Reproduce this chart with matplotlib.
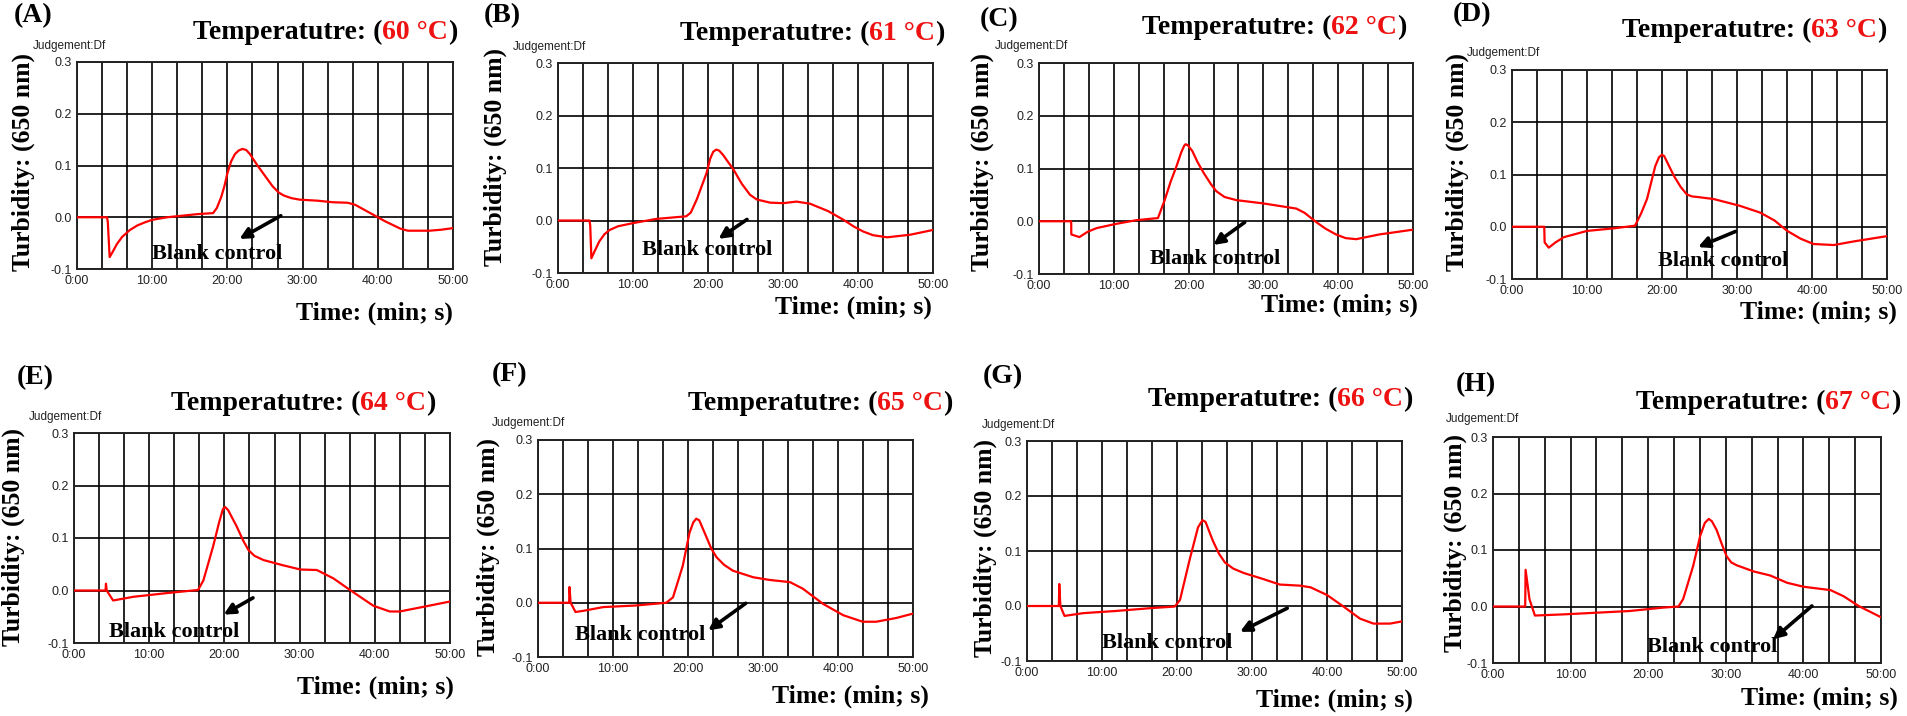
import numpy as np
import matplotlib
matplotlib.use("Agg")
import matplotlib.pyplot as plt

# turbidity curves (time in min, turbidity at 650 nm)
t_a = [0, 4.0, 4.1, 4.34, 4.7, 5.3, 6.0, 7.0, 8.0, 9.0, 10.0, 12.0, 14.0, 16.0, 18.1, 18.6, 19.2, 19.6, 20.0, 20.5, 21.0, 21.5, 22.0, 22.5, 23.0, 24.0, 25.0, 26.0, 26.8, 27.5, 28.5, 29.6, 32.0, 34.0, 36.0, 37.0, 38.0, 39.0, 40.0, 41.0, 42.0, 43.0, 44.0, 46.9, 48.5, 50.0]
y_a = [0, 0, -0.01, -0.077, -0.068, -0.052, -0.038, -0.025, -0.016, -0.01, -0.005, 0.0, 0.003, 0.006, 0.008, 0.018, 0.04, 0.06, 0.085, 0.108, 0.122, 0.129, 0.132, 0.13, 0.122, 0.1, 0.08, 0.06, 0.048, 0.042, 0.037, 0.034, 0.032, 0.029, 0.028, 0.024, 0.016, 0.008, 0.0, -0.008, -0.015, -0.022, -0.026, -0.026, -0.024, -0.021]

t_b = [0, 4.2, 4.3, 4.45, 4.9, 5.5, 6.2, 6.9, 8.0, 10.0, 13.1, 17.1, 17.7, 18.5, 19.8, 20.3, 20.7, 21.1, 21.5, 22.0, 23.4, 24.5, 25.6, 26.5, 28.3, 30.0, 31.8, 33.6, 36.0, 38.1, 39.5, 40.7, 42.0, 43.9, 47.0, 50.0]
y_b = [0, 0, -0.01, -0.072, -0.058, -0.04, -0.026, -0.018, -0.011, -0.005, 0.003, 0.008, 0.015, 0.04, 0.09, 0.118, 0.131, 0.135, 0.133, 0.125, 0.097, 0.07, 0.049, 0.04, 0.034, 0.033, 0.036, 0.032, 0.018, 0.001, -0.012, -0.021, -0.028, -0.032, -0.027, -0.018]

t_c = [0, 4.3, 4.32, 5.4, 6.5, 7.7, 10.3, 13.0, 15.9, 16.8, 17.6, 18.4, 19.0, 19.4, 19.6, 19.9, 20.5, 21.2, 22.0, 23.0, 23.7, 24.8, 26.4, 29.9, 34.4, 35.5, 37.1, 38.3, 39.7, 41.0, 42.4, 45.5, 50.0]
y_c = [0, 0, -0.025, -0.03, -0.02, -0.013, -0.005, 0.002, 0.006, 0.04, 0.075, 0.105, 0.13, 0.143, 0.146, 0.144, 0.133, 0.112, 0.092, 0.07, 0.057, 0.046, 0.04, 0.034, 0.024, 0.016, -0.002, -0.014, -0.025, -0.032, -0.034, -0.025, -0.016]

t_d = [0, 4.3, 4.35, 4.9, 5.8, 6.9, 10.0, 13.6, 16.4, 17.2, 18.0, 19.1, 19.6, 20.0, 20.3, 21.6, 22.5, 23.3, 24.0, 24.7, 26.9, 30.4, 33.1, 35.0, 36.7, 38.5, 40.2, 42.9, 45.6, 50.0]
y_d = [0, 0, -0.03, -0.04, -0.03, -0.02, -0.008, -0.003, 0.002, 0.025, 0.053, 0.116, 0.133, 0.138, 0.135, 0.097, 0.076, 0.062, 0.058, 0.057, 0.053, 0.04, 0.027, 0.012, -0.008, -0.023, -0.033, -0.035, -0.028, -0.018]

t_e = [0, 4.2, 4.25, 4.35, 5.2, 7.9, 12.3, 16.5, 17.2, 18.5, 19.3, 19.8, 20.1, 20.5, 21.6, 22.5, 23.2, 24.0, 25.2, 27.8, 30.1, 32.3, 34.5, 36.7, 39.8, 42.0, 43.3, 46.5, 50.0]
y_e = [0, 0, 0.013, 0.0, -0.019, -0.012, -0.005, 0.001, 0.019, 0.084, 0.13, 0.155, 0.159, 0.153, 0.123, 0.095, 0.077, 0.066, 0.058, 0.048, 0.04, 0.039, 0.023, 0.001, -0.029, -0.04, -0.04, -0.031, -0.021]

t_f = [0, 4.15, 4.2, 4.35, 5.0, 6.0, 8.7, 13.1, 17.1, 18.0, 19.3, 20.2, 20.7, 21.1, 21.5, 22.4, 23.1, 23.8, 24.8, 26.0, 28.7, 30.9, 33.6, 35.3, 38.0, 40.7, 43.3, 45.1, 47.8, 50.0]
y_f = [0, 0, 0.029, 0.0, -0.017, -0.015, -0.008, -0.005, 0.0, 0.01, 0.068, 0.129, 0.148, 0.155, 0.152, 0.123, 0.1, 0.084, 0.07, 0.059, 0.047, 0.042, 0.038, 0.026, -0.002, -0.023, -0.035, -0.035, -0.028, -0.02]

t_g = [0, 4.25, 4.3, 4.45, 5.0, 7.5, 11.9, 16.4, 19.7, 20.4, 21.7, 22.8, 23.4, 23.8, 24.8, 25.6, 26.4, 27.5, 28.9, 31.5, 33.7, 36.4, 37.8, 40.0, 42.2, 44.4, 46.2, 48.4, 50.0]
y_g = [0, 0, 0.04, 0.0, -0.018, -0.013, -0.009, -0.004, -0.001, 0.011, 0.085, 0.143, 0.156, 0.153, 0.118, 0.095, 0.079, 0.068, 0.06, 0.049, 0.039, 0.037, 0.034, 0.02, -0.001, -0.023, -0.032, -0.032, -0.028]

t_h = [0, 4.15, 4.2, 4.7, 5.4, 9.0, 13.3, 17.6, 21.9, 23.9, 24.5, 25.8, 26.7, 27.3, 27.8, 28.2, 28.8, 29.5, 30.1, 30.7, 31.4, 33.6, 35.7, 37.9, 40.0, 43.5, 45.2, 47.1, 50.0]
y_h = [0, 0, 0.065, 0.013, -0.016, -0.014, -0.011, -0.008, -0.002, 0.0, 0.013, 0.072, 0.125, 0.148, 0.155, 0.151, 0.136, 0.11, 0.089, 0.078, 0.073, 0.062, 0.055, 0.042, 0.035, 0.029, 0.018, 0.001, -0.019]

panel_labels = ["(A)", "(B)", "(C)", "(D)", "(E)", "(F)", "(G)", "(H)"]
temperatures = [60, 61, 62, 63, 64, 65, 66, 67]
times = [t_a, t_b, t_c, t_d, t_e, t_f, t_g, t_h]
turbs = [y_a, y_b, y_c, y_d, y_e, y_f, y_g, y_h]

x_ticks = [0, 10, 20, 30, 40, 50]
x_ticklabels = ["0:00", "10:00", "20:00", "30:00", "40:00", "50:00"]
y_ticks = [-0.1, 0.0, 0.1, 0.2, 0.3]
y_ticklabels = ["-0.1", "0.0", "0.1", "0.2", "0.3"]

# layout, in pixels of the 1907x716 picture
W, H = 1907, 716
axes_px = [(77, 453, 62, 269), (558, 933, 63, 273), (1039, 1413, 63, 274), (1512, 1887, 70, 279),
           (74, 450, 433, 643), (538, 913, 440, 657), (1027, 1402, 441, 661), (1493, 1881, 437, 663)]
label_px = [(14, 16), (484, 16), (980, 20), (1453, 15), (17, 378), (492, 375), (983, 377), (1456, 385)]
title_px = [(325, 32), (812, 33), (1274, 27), (1754, 30), (303, 403), (820, 403), (1280, 399), (1768, 402)]
ylab_px = [(23, 162), (495, 157), (982, 162), (1457, 162), (13, 537), (488, 547), (985, 548), (1455, 543)]
judge_px = [(33, 46), (513, 47), (995, 46), (1467, 53), (29, 417), (492, 423), (982, 425), (1446, 419)]
xlab_px = [(453, 313), (932, 307), (1418, 305), (1897, 312), (454, 687), (929, 696), (1413, 700), (1898, 698)]
# arrow tail, arrow head, text centre (data coords)
arrows = [((27.1, 0.003), (21.6, -0.042), (18.6, -0.071)),
          ((25.2, 0.002), (21.4, -0.035), (19.9, -0.057)),
          ((27.5, -0.002), (23.3, -0.045), (23.5, -0.071)),
          ((29.8, -0.009), (24.8, -0.039), (28.1, -0.065)),
          ((23.8, -0.014), (19.9, -0.046), (13.3, -0.079)),
          ((27.7, -0.001), (22.7, -0.051), (13.6, -0.059)),
          ((34.7, -0.004), (28.4, -0.047), (18.7, -0.067)),
          ((41.1, 0.001), (36.1, -0.058), (28.2, -0.072))]

serif = "Liberation Serif"
sans = "Liberation Sans"
red_text = "#ee1111"


def fx(x):
    return x / W


def fy(y):
    return 1 - y / H


fig = plt.figure(figsize=(19.07, 7.16), dpi=100)
renderer = fig.canvas.get_renderer()

for i in range(8):
    x0, x1, y0, y1 = axes_px[i]
    ax = fig.add_axes([fx(x0), fy(y1), (x1 - x0) / W, (y1 - y0) / H])
    ax.plot(times[i], turbs[i], color="#ff0000", lw=1.6, zorder=3)
    ax.set_xlim(0, 50)
    ax.set_ylim(-0.1, 0.3)
    ax.set_xticks(x_ticks)
    ax.set_xticklabels(x_ticklabels)
    ax.set_yticks(y_ticks)
    ax.set_yticklabels(y_ticklabels)
    ax.set_xticks(np.arange(1, 15) * 50 / 15, minor=True)
    ax.grid(True, which="both", axis="x", color="black", lw=1.2)
    ax.grid(True, which="major", axis="y", color="black", lw=1.2)
    ax.tick_params(which="both", length=0, pad=4, labelsize=9)
    for lab in ax.get_xticklabels() + ax.get_yticklabels():
        lab.set_fontfamily(sans)
        lab.set_color("#222222")
    for sp in ax.spines.values():
        sp.set_color("#222222")
        sp.set_linewidth(1.4)

    tail, head, txt = arrows[i]
    ax.annotate("", xy=head, xytext=tail,
                arrowprops=dict(arrowstyle="-|>", lw=2.6, color="black", mutation_scale=16,
                                shrinkA=0, shrinkB=0), zorder=5)
    ax.text(txt[0], txt[1], "Blank control", ha="center", va="center",
            fontfamily=serif, fontweight="bold", fontsize=16, zorder=6)

    lx, ly = label_px[i]
    fig.text(fx(lx), fy(ly), panel_labels[i], ha="left", va="center",
             fontfamily=serif, fontweight="bold", fontsize=20)

    jx, jy = judge_px[i]
    fig.text(fx(jx), fy(jy), "Judgement:Df", ha="left", va="center",
             fontfamily=sans, fontsize=8.5, color="#222222")

    yx, yy = ylab_px[i]
    fig.text(fx(yx), fy(yy), "Turbidity: (650 nm)", rotation=90, ha="center", va="center",
             fontfamily=serif, fontweight="bold", fontsize=18.5)

    xx, xy = xlab_px[i]
    fig.text(fx(xx), fy(xy), "Time: (min; s)", ha="right", va="center",
             fontfamily=serif, fontweight="bold", fontsize=18.5)

    # title in two colours, centred on the reference position
    cx, cy = title_px[i]
    pieces = [("Temperatutre: (", "black"), (f"{temperatures[i]} \u00b0C", red_text), (")", "black")]
    arts = []
    for s, c in pieces:
        arts.append(fig.text(0, fy(cy + 7), s, ha="left", va="baseline", color=c,
                             fontfamily=serif, fontweight="bold", fontsize=20))
    widths = [a.get_window_extent(renderer).width for a in arts]
    left = cx - sum(widths) / 2
    for a, w in zip(arts, widths):
        a.set_x(fx(left))
        left += w

fig.savefig("out.png", dpi=100)
